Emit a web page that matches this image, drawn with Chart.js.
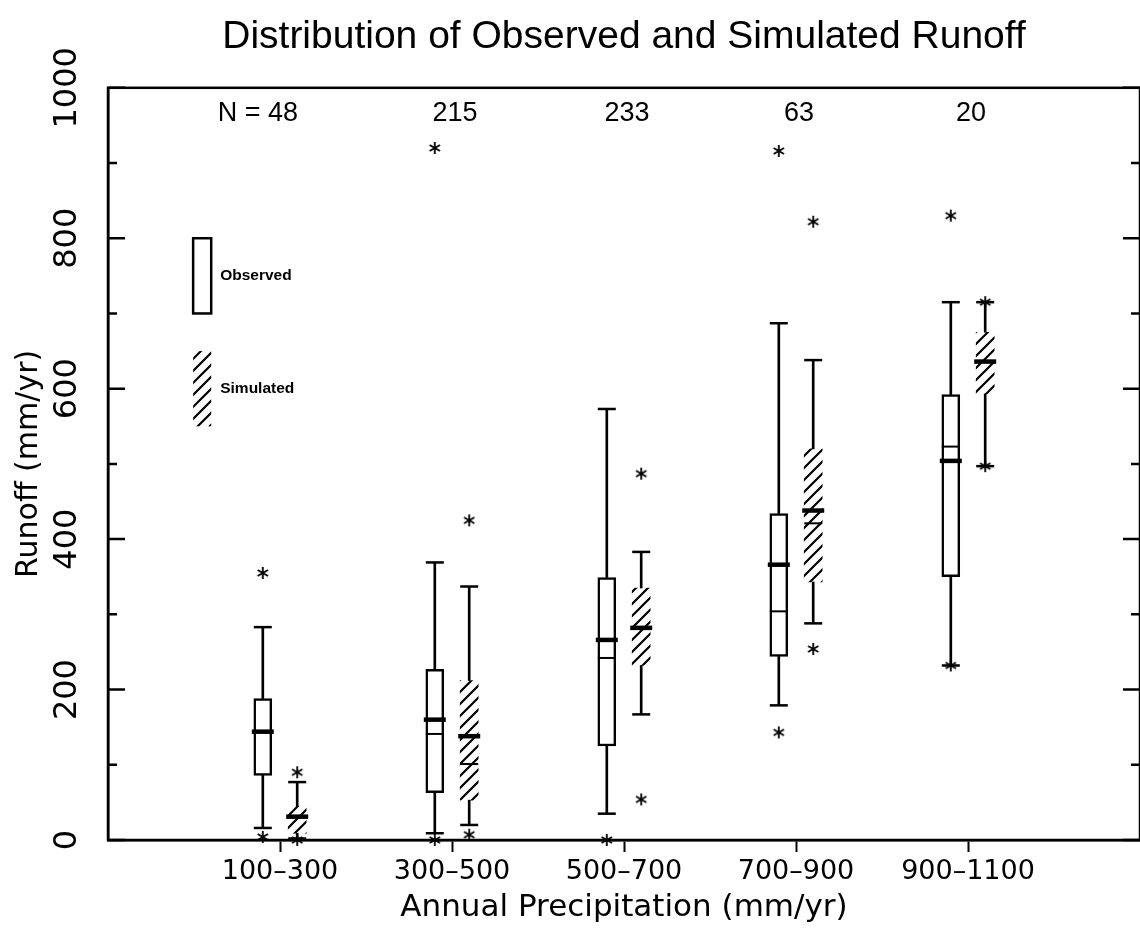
<!DOCTYPE html>
<html lang="en">
<head>
<meta charset="utf-8" />
<title>Distribution of Observed and Simulated Runoff</title>
<script src="https://cdn.jsdelivr.net/npm/chart.js@4.4.1/dist/chart.umd.min.js"></script>
<style>
    html, body { margin: 0; padding: 0; background: #fff; overflow: hidden; }
    #wrap { width: 1140px; height: 928px; position: relative; }
</style>
</head>
<body>
<div id="wrap"><canvas id="runoffChart"></canvas></div>
<script>
// precipitation classes and number of basins in each
const categories = ['100–300', '300–500', '500–700', '700–900', '900–1100'];
const counts = [48, 215, 233, 63, 20];

// observed runoff (mm/yr)
const obsLow = [16, 9, 35, 179, 232];
const obsQ1 = [86, 63, 125, 244, 350];
const obsMedian = [144, 160, 266, 366, 504];
const obsMean = [145, 141, 242, 304, 523];
const obsQ3 = [188, 227, 349, 434, 592];
const obsHigh = [283, 369, 573, 687, 715];
const obsOutliers = [[4, 355], [0, 920], [0], [143, 916], [232, 830]];

// simulated runoff (mm/yr)
const simLow = [2, 20, 167, 288, 497];
const simQ1 = [9, 53, 232, 343, 593];
const simMedian = [31, 138, 282, 438, 636];
const simMean = [32, 101, 283, 421, 637];
const simQ3 = [45, 212, 335, 520, 675];
const simHigh = [77, 337, 383, 638, 715];
const simOutliers = [[90, 0], [425, 7], [487, 54], [822, 254], [715, 497]];

const yTickLabels = [0, 200, 400, 600, 800, 1000];

const OBS = -0.1, SIM = 0.1;

function pts(values, off) {
    return values.map((v, i) => ({ x: i + 1 + off, y: v }));
}
function spans(lo, hi, off) {
    return lo.map((v, i) => ({ x: i + 1 + off, y: [v, hi[i]] }));
}
function outlierPts(list, off) {
    return list.flatMap((vals, i) => vals.map(v => ({ x: i + 1 + off, y: v })));
}

function makeAsterisk() {
    const c = document.createElement('canvas');
    c.width = 14; c.height = 14;
    const g = c.getContext('2d');
    g.strokeStyle = '#000';
    g.lineWidth = 1.8;
    for (let k = 0; k < 3; k++) {
        const a = Math.PI / 2 + k * Math.PI / 3;
        g.beginPath();
        g.moveTo(7 + 6 * Math.cos(a), 7 + 6 * Math.sin(a));
        g.lineTo(7 - 6 * Math.cos(a), 7 - 6 * Math.sin(a));
        g.stroke();
    }
    return c;
}

function makeHatch(ctx) {
    const s = 12;
    const c = document.createElement('canvas');
    c.width = s; c.height = s;
    const g = c.getContext('2d');
    g.strokeStyle = '#000';
    g.lineWidth = 2.2;
    g.beginPath();
    g.moveTo(-2, s + 2); g.lineTo(s + 2, -2);
    g.moveTo(-2, 2); g.lineTo(2, -2);
    g.moveTo(s - 2, s + 2); g.lineTo(s + 2, s - 2);
    g.stroke();
    return ctx.createPattern(c, 'repeat');
}

const canvas = document.getElementById('runoffChart');
const hatch = makeHatch(canvas.getContext('2d'));
const asterisk = makeAsterisk();

function markLine(label, data, radius, width) {
    return {
        type: 'scatter', label: label, data: data, clip: false,
        pointStyle: 'line', pointRadius: radius, pointHoverRadius: radius,
        pointBorderWidth: width, pointBorderColor: '#000', pointBackgroundColor: '#000'
    };
}
function starSet(label, data) {
    return {
        type: 'scatter', label: label, data: data, clip: false,
        pointStyle: asterisk, pointRadius: 7, pointHoverRadius: 7
    };
}
function boxSet(label, data, fill, border) {
    return {
        type: 'bar', label: label, data: data, grouped: false, clip: false,
        barThickness: 18, backgroundColor: fill, borderColor: '#000',
        borderWidth: border, borderSkipped: false
    };
}

// extra drawing: frame, inward y ticks, rotated y labels, N counts and the key
const decorations = {
    id: 'decorations',
    beforeDatasetsDraw(chart) {
        const { ctx, chartArea: a, scales: { y } } = chart;
        ctx.save();
        ctx.strokeStyle = '#000';
        ctx.lineWidth = 2.5;
        ctx.strokeRect(a.left, a.top, a.right - a.left, a.bottom - a.top);
        for (let v = 0; v <= 1000; v += 100) {
            const py = y.getPixelForValue(v);
            const len = v % 200 === 0 ? 17 : 9;
            ctx.beginPath();
            ctx.moveTo(a.left, py); ctx.lineTo(a.left + len, py);
            ctx.moveTo(a.right, py); ctx.lineTo(a.right - len, py);
            ctx.stroke();
        }
        ctx.restore();
    },
    afterDraw(chart) {
        const { ctx, scales: { x, y } } = chart;
        ctx.save();
        ctx.fillStyle = '#000';

        ctx.font = '32px "DejaVu Sans"';
        ctx.textAlign = 'center';
        ctx.textBaseline = 'middle';
        yTickLabels.forEach(v => {
            ctx.save();
            ctx.translate(68, y.getPixelForValue(v));
            ctx.rotate(-Math.PI / 2);
            ctx.fillText(String(v), 0, 0);
            ctx.restore();
        });

        ctx.font = '27px "Liberation Sans"';
        const ny = y.getPixelForValue(966);
        counts.forEach((n, i) => {
            const cx = x.getPixelForValue(i + 1);
            ctx.textAlign = 'center';
            ctx.fillText(String(n), cx + 3, ny);
            if (i === 0) {
                const w = ctx.measureText(String(n)).width;
                ctx.textAlign = 'right';
                ctx.fillText('N = ', cx + 3 - w / 2, ny);
            }
        });

        // key
        const kl = x.getPixelForValue(0.495), kr = x.getPixelForValue(0.6);
        ctx.strokeStyle = '#000';
        ctx.lineWidth = 2.5;
        const o1 = y.getPixelForValue(800), o2 = y.getPixelForValue(700);
        ctx.strokeRect(kl, o1, kr - kl, o2 - o1);
        const s1 = y.getPixelForValue(650), s2 = y.getPixelForValue(550);
        ctx.fillStyle = hatch;
        ctx.fillRect(kl, s1, kr - kl, s2 - s1);
        ctx.fillStyle = '#000';
        ctx.font = 'bold 15.5px "Liberation Sans"';
        ctx.textAlign = 'left';
        ctx.fillText('Observed', kr + 9, (o1 + o2) / 2);
        ctx.fillText('Simulated', kr + 9, (s1 + s2) / 2);
        ctx.restore();
    }
};

Chart.defaults.font.family = '"DejaVu Sans"';
Chart.defaults.color = '#000';

new Chart(canvas, {
    type: 'bar',
    data: {
        datasets: [
            starSet('Observed outliers', outlierPts(obsOutliers, OBS)),
            starSet('Simulated outliers', outlierPts(simOutliers, SIM)),
            markLine('Observed median', pts(obsMedian, OBS), 11, 4.5),
            markLine('Simulated median', pts(simMedian, SIM), 11, 4.5),
            markLine('Observed mean', pts(obsMean, OBS), 9, 2),
            markLine('Simulated mean', pts(simMean, SIM), 9, 2),
            markLine('Observed caps', pts(obsLow, OBS).concat(pts(obsHigh, OBS)), 9, 2.5),
            markLine('Simulated caps', pts(simLow, SIM).concat(pts(simHigh, SIM)), 9, 2.5),
            boxSet('Observed', spans(obsQ1, obsQ3, OBS), '#fff', 2.5),
            boxSet('Simulated', spans(simQ1, simQ3, SIM), hatch, 0),
            {
                type: 'bar', label: 'Whiskers', grouped: false, clip: false,
                barThickness: 2, backgroundColor: '#000', borderWidth: 0,
                data: spans(obsLow, obsQ1, OBS).concat(spans(obsQ3, obsHigh, OBS),
                    spans(simLow, simQ1, SIM), spans(simQ3, simHigh, SIM))
            }
        ]
    },
    options: {
        responsive: true,
        maintainAspectRatio: false,
        animation: false,
        layout: { padding: 0, autoPadding: false },
        plugins: {
            legend: { display: false },
            tooltip: { enabled: false },
            title: {
                display: true,
                fullSize: false,
                text: 'Distribution of Observed and Simulated Runoff',
                font: { family: '"Liberation Sans"', size: 39, weight: 'normal' },
                color: '#000',
                padding: { top: 14, bottom: 27 }
            }
        },
        scales: {
            x: {
                type: 'linear', min: 0, max: 6, offset: false,
                afterBuildTicks: s => { s.ticks = categories.map((c, i) => ({ value: i + 1 })); },
                afterFit: s => { s.height = 88; s.paddingLeft = 0; s.paddingRight = 0; },
                ticks: {
                    callback: v => categories[v - 1],
                    font: { size: 27 }, padding: 4, maxRotation: 0, autoSkip: false
                },
                grid: { offset: false, drawOnChartArea: false, tickLength: 12, tickWidth: 2, tickColor: '#000' },
                border: { display: true, color: '#000', width: 2.5 },
                title: {
                    display: true, text: 'Annual Precipitation (mm/yr)',
                    font: { size: 31 }, padding: { top: 0, bottom: 1 }
                }
            },
            y: {
                type: 'linear', min: 0, max: 1000,
                afterFit: s => { s.width = 108; s.paddingTop = 0; s.paddingBottom = 0; },
                ticks: { display: false, stepSize: 100 },
                grid: { display: false },
                border: { display: true, color: '#000', width: 2.5 },
                title: {
                    display: true, text: 'Runoff (mm/yr)',
                    font: { size: 30 }, padding: { top: 11, bottom: 0 }
                }
            }
        }
    },
    plugins: [decorations]
});
</script>
</body>
</html>
